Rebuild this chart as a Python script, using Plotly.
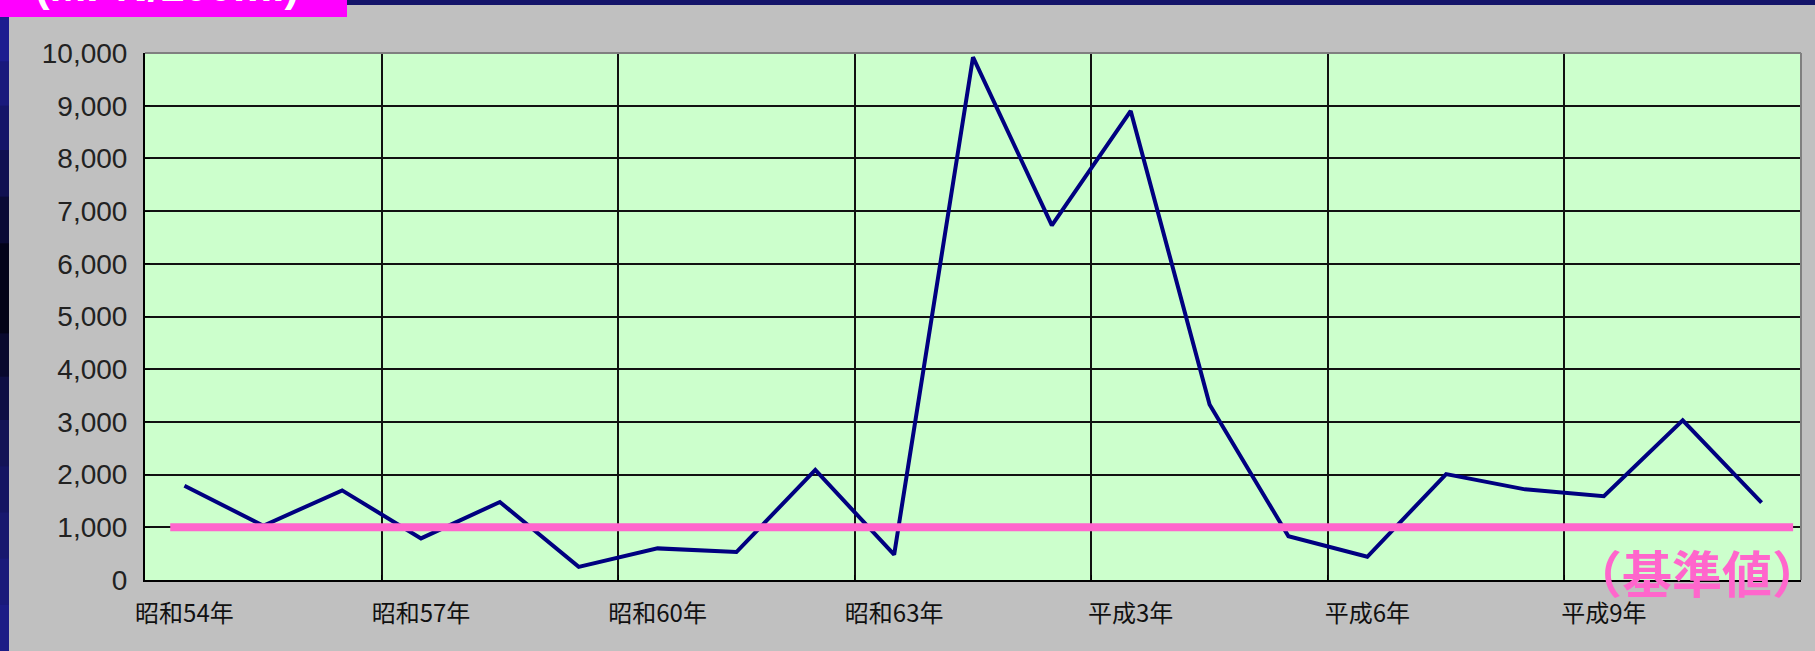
import plotly.graph_objects as go

# ---------------- data ----------------
years = ["昭和54年", "昭和55年", "昭和56年", "昭和57年", "昭和58年", "昭和59年", "昭和60年",
         "昭和61年", "昭和62年", "昭和63年", "平成元年", "平成2年", "平成3年", "平成4年",
         "平成5年", "平成6年", "平成7年", "平成8年", "平成9年", "平成10年", "平成11年"]
values = [1790, 1030, 1700, 790, 1480, 250, 600, 530, 2090, 480, 9920,
          6730, 8900, 3330, 830, 440, 2010, 1720, 1590, 3030, 1470]
label_idx = [0, 3, 6, 9, 12, 15, 18]
label_text = [years[i] for i in label_idx]
y_ticks = [0, 1000, 2000, 3000, 4000, 5000, 6000, 7000, 8000, 9000, 10000]
standard_value = 1000
unit_text = "(MPN/100ml)"
standard_label = "（基準値）"

# ---------------- geometry (pixels) ----------------
W, H = 1815, 651
L, R, T, B = 145, 1801, 53, 580
n = len(years)
x_idx = list(range(n))


def px(xp):
    return (xp - L) / (R - L)


def py(yp):
    return (B - yp) / (B - T)


fig = go.Figure()

fig.add_trace(go.Scatter(
    x=x_idx, y=values, mode="lines",
    line=dict(color="#000080", width=4),
    hoverinfo="skip", showlegend=False,
))
fig.add_trace(go.Scatter(
    x=[-0.18, n - 0.6], y=[standard_value, standard_value], mode="lines",
    line=dict(color="#FF66CC", width=8),
    hoverinfo="skip", showlegend=False,
))

shapes = []
# top navy bar
shapes.append(dict(type="rect", xref="paper", yref="paper",
                   x0=px(0), x1=px(W), y0=py(0), y1=py(5),
                   line=dict(width=0), fillcolor="#15156A", layer="above"))
# left gradient bar
stops = [(17, (31, 31, 154)), (150, (20, 20, 95)), (290, (0, 0, 12)),
         (420, (18, 18, 80)), (651, (30, 30, 140))]
seg = 40
for k in range(len(stops) - 1):
    (ya, ca), (yb, cb) = stops[k], stops[k + 1]
    steps = max(1, int((yb - ya) / seg))
    for s in range(steps):
        t0 = ya + (yb - ya) * s / steps
        t1 = ya + (yb - ya) * (s + 1) / steps
        f = (s + 0.5) / steps
        c = tuple(int(ca[j] + (cb[j] - ca[j]) * f) for j in range(3))
        shapes.append(dict(type="rect", xref="paper", yref="paper",
                           x0=px(0), x1=px(9), y0=py(t0), y1=py(t1 + 1),
                           line=dict(width=0),
                           fillcolor="rgb(%d,%d,%d)" % c, layer="above"))
# magenta header box
shapes.append(dict(type="rect", xref="paper", yref="paper",
                   x0=px(0), x1=px(347), y0=py(0), y1=py(17),
                   line=dict(width=0), fillcolor="#FF00FF", layer="above"))
# grey top and right border of plot area
shapes.append(dict(type="line", xref="paper", yref="paper",
                   x0=0, x1=1, y0=1, y1=1, line=dict(color="#808080", width=2)))
shapes.append(dict(type="line", xref="paper", yref="paper",
                   x0=1, x1=1, y0=0, y1=1, line=dict(color="#808080", width=2)))

annotations = [
    dict(text=standard_label, xref="paper", yref="paper",
         x=px(1697), y=py(571), xanchor="center", yanchor="middle",
         showarrow=False,
         font=dict(family="Noto Sans CJK JP", size=50, color="#FF66CC", weight="bold")),
    dict(text=unit_text, xref="paper", yref="paper",
         x=px(167), y=py(-14), xanchor="center", yanchor="middle",
         showarrow=False,
         font=dict(family="Liberation Sans, Arial", size=44, color="#FFFFFF", weight="bold")),
]

fig.update_layout(
    width=W, height=H,
    margin=dict(l=L, r=W - R, t=T, b=H - B, autoexpand=False),
    paper_bgcolor="#C0C0C0",
    plot_bgcolor="#CCFFCC",
    shapes=shapes,
    annotations=annotations,
    showlegend=False,
    xaxis=dict(
        range=[-0.5, n - 0.5],
        tickmode="array", tickvals=label_idx, ticktext=label_text,
        showgrid=False, zeroline=False,
        showline=True, linecolor="#000000", linewidth=2,
        ticks="", ticklabelstandoff=11, automargin=False,
        tickfont=dict(family="Noto Sans CJK JP", size=24, color="#111111"),
        minor=dict(tickmode="array",
                   tickvals=[i + 2.5 for i in label_idx[:-1]],
                   showgrid=True, gridcolor="#111111", gridwidth=1.6,
                   ticks="inside", ticklen=5, tickcolor="#000000"),
    ),
    yaxis=dict(
        range=[0, 10000],
        tickmode="array", tickvals=y_ticks, tickformat=",",
        showgrid=True, gridcolor="#111111", gridwidth=1.6,
        zeroline=False,
        showline=True, linecolor="#000000", linewidth=2,
        ticks="inside", ticklen=5, tickcolor="#000000",
        ticklabelstandoff=10, automargin=False,
        tickfont=dict(family="Liberation Sans Narrow, Liberation Sans, Arial", size=28, color="#222222"),
    ),
)

fig.write_html("out.html")
